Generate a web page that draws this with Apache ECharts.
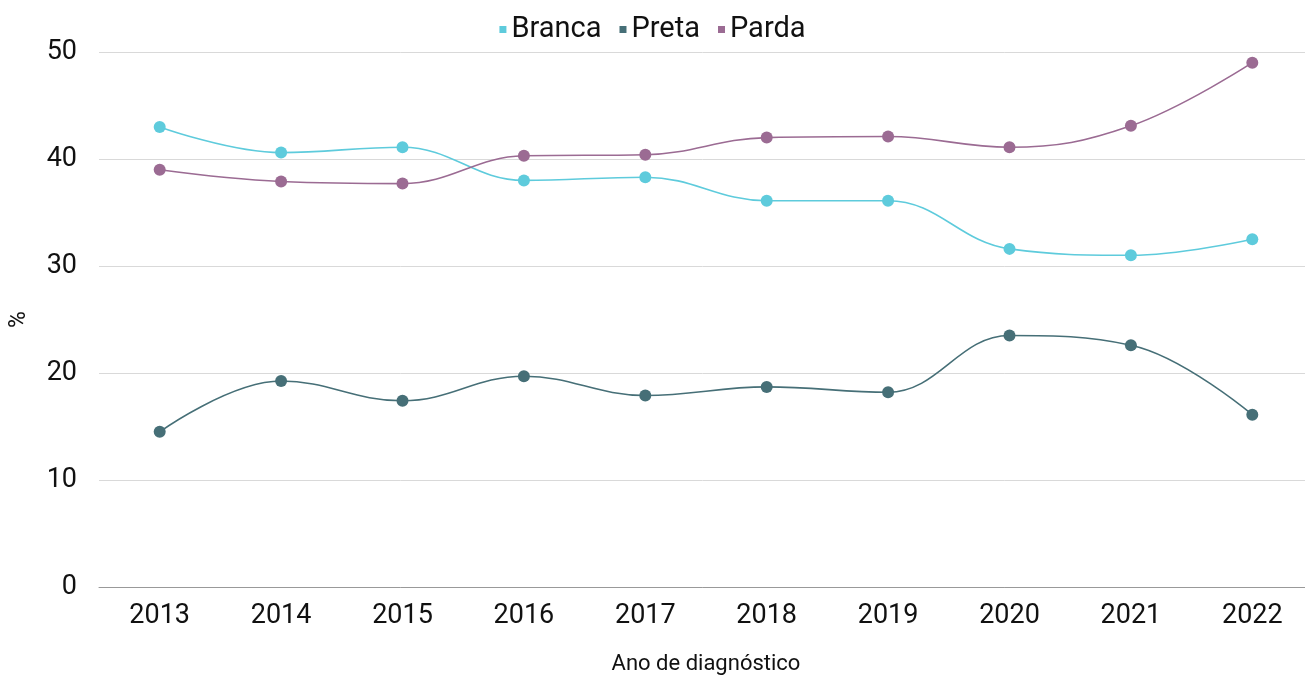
<!DOCTYPE html>
<html>
<head>
<meta charset="utf-8">
<script src="https://cdn.jsdelivr.net/npm/echarts@6/dist/echarts.min.js"></script>
<style>
  html, body { margin: 0; padding: 0; background: #fff; }
  #chart { width: 1305px; height: 682px; }
</style>
</head>
<body>
<div id="chart"></div>
<script>
  // dados
  const anos = ['2013', '2014', '2015', '2016', '2017', '2018', '2019', '2020', '2021', '2022'];
  const branca = [43.0, 40.6, 41.1, 38.0, 38.3, 36.1, 36.1, 31.6, 31.0, 32.5];
  const preta = [14.5, 19.25, 17.4, 19.7, 17.9, 18.7, 18.2, 23.5, 22.6, 16.1];
  const parda = [39.0, 37.9, 37.7, 40.3, 40.4, 42.0, 42.1, 41.1, 43.1, 49.0];

  const fonte = 'Roboto, "Noto Sans", sans-serif';
  const myChart = echarts.init(document.getElementById('chart'));

  const serie = (nome, dados, cor) => ({
    name: nome,
    type: 'line',
    data: dados,
    smooth: 0.4,
    symbol: 'circle',
    symbolSize: 12,
    itemStyle: { color: cor },
    lineStyle: { color: cor, width: 1.6 }
  });

  const options = {
    textStyle: { fontFamily: fonte },
    legend: {
      top: 10,
      left: 'center',
      icon: 'rect',
      itemWidth: 7,
      itemHeight: 7,
      itemGap: 18,
      textStyle: { fontSize: 29, color: '#111', fontFamily: fonte }
    },
    grid: { left: 99, right: -8, top: 52, bottom: 95, containLabel: false, outerBoundsMode: 'none' },
    xAxis: {
      type: 'category',
      data: anos,
      name: 'Ano de diagnóstico',
      nameLocation: 'middle',
      nameGap: 66,
      nameTextStyle: { fontSize: 22, color: '#111' },
      axisLine: { lineStyle: { color: '#999' } },
      axisTick: { show: false },
      axisLabel: { fontSize: 27, color: '#111', margin: 16 }
    },
    yAxis: {
      type: 'value',
      min: 0,
      max: 50,
      interval: 10,
      name: '%',
      nameLocation: 'middle',
      nameGap: 68,
      nameTextStyle: { fontSize: 23, color: '#111' },
      axisLabel: { fontSize: 27, color: '#111', margin: 22 },
      splitLine: { lineStyle: { color: '#d9d9d9' } }
    },
    series: [
      serie('Branca', branca, '#5ecbdc'),
      serie('Preta', preta, '#466f77'),
      serie('Parda', parda, '#9b6b93')
    ]
  };
  myChart.setOption(options);
</script>
</body>
</html>
